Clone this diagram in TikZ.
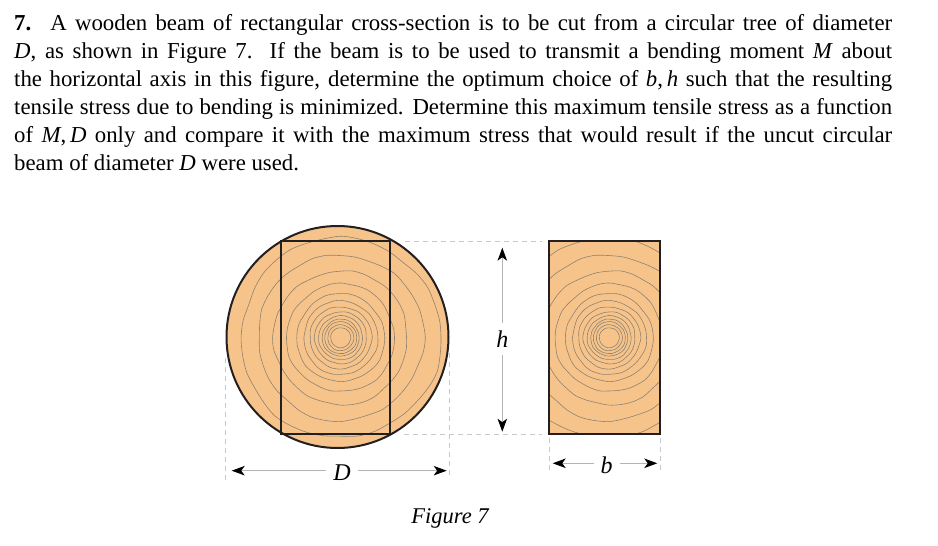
\documentclass[tikz,border=0pt]{standalone}
\usepackage{fontspec}
\setmainfont{Liberation Serif}
\usetikzlibrary{arrows.meta}
\definecolor{woodfill}{HTML}{F6C48B}
\definecolor{ringline}{HTML}{8F8270}
\definecolor{inkline}{HTML}{231F20}
\definecolor{guideline}{HTML}{C8C8C8}
\definecolor{dimgrey}{HTML}{B4B4B4}
\newcommand{\treerings}{
  \foreach \r/\p in {10/20, 13/75, 16/140, 18.5/200, 22/260, 26/310, 31/35, 37/95, 44/170, 54/230, 67/300, 83/50, 100/120} {
    \draw[treering] plot[smooth cycle, samples=36, domain=0:350] (\x:{\r*(1+0.012*sin(3*\x+\p)+0.008*sin(7*\x+2*\p)+0.005*sin(13*\x+3*\p))});
  }
}

\begin{document}
\begin{tikzpicture}[x=1pt, y=1pt,
  treering/.style={draw=ringline, line width=0.6pt},
  outline/.style={draw=inkline, line width=2pt},
  guide/.style={draw=guideline, line width=0.9pt, dash pattern=on 5pt off 4pt},
  dimline/.style={draw=dimgrey, line width=0.9pt, -{Stealth[length=13pt, width=9.5pt, inset=3.5pt, black]}},
  dimlabel/.style={inner sep=7pt, font=\fontsize{24}{24}\selectfont\itshape}]
  \useasboundingbox (0,0) rectangle (938,546);

  \node[anchor=north west, inner sep=0pt, text width=878pt, align=justify, font=\fontsize{22.8}{28}\selectfont] (problem) at (14,531.5) {\textbf{7.}\, A wooden beam of rectangular cross-section is to be cut from a circular tree of diameter\linebreak \textit{D}, as shown in Figure 7.\ \ If the beam is to be used to transmit a bending moment \textit{M} about\linebreak the horizontal axis in this figure, determine the optimum choice of \textit{b},\,\textit{h} such that the resulting\linebreak tensile stress due to bending is minimized. Determine this maximum tensile stress as a function\linebreak of \textit{M},\,\textit{D} only and compare it with the maximum stress that would result if the uncut circular\linebreak beam of diameter \textit{D} were used.};

  \coordinate (trunk) at (337.5,209);
  \coordinate (cutnw) at (280.7,305);
  \coordinate (cutse) at (390,112);
  \coordinate (beamnw) at (549.3,305);
  \coordinate (beamse) at (659.5,112);

  \begin{scope}
    \fill[woodfill] (trunk) circle [radius=111];
    \clip (trunk) circle [radius=111];
    \begin{scope}[shift={(340.7,208.3)}]
      \treerings
    \end{scope}
  \end{scope}
  \draw[outline] (trunk) circle [radius=111];
  \draw[outline] (cutnw) rectangle (cutse);

  \begin{scope}
    \fill[woodfill] (beamnw) rectangle (beamse);
    \clip (beamnw) rectangle (beamse);
    \begin{scope}[shift={(609.3,208.3)}]
      \treerings
    \end{scope}
  \end{scope}
  \draw[outline] (beamnw) rectangle (beamse);

  \coordinate (topfrom) at (405,305);
  \coordinate (topto) at (542,305);
  \coordinate (botfrom) at (404,112);
  \coordinate (botto) at (542,112);
  \draw[guide] (topfrom) -- (topto);
  \draw[guide] (botfrom) -- (botto);
  \coordinate (dleftup) at (225.5,188);
  \coordinate (dleftdown) at (225.5,64);
  \coordinate (drightup) at (449,193);
  \coordinate (drightdown) at (449,69);
  \draw[guide] (dleftup) -- (dleftdown);
  \draw[guide] (drightup) -- (drightdown);
  \coordinate (bleftup) at (549.5,108);
  \coordinate (bleftdown) at (549.5,74);
  \coordinate (brightup) at (660,108);
  \coordinate (brightdown) at (660,74);
  \draw[guide] (bleftup) -- (bleftdown);
  \draw[guide] (brightup) -- (brightdown);

  \node[dimlabel] (dlabel) at (342,73) {D};
  \coordinate (dleft) at (231.7,75.3);
  \coordinate (dright) at (446.7,75.3);
  \draw[dimline] (dlabel.west |- dleft) -- (dleft);
  \draw[dimline] (dlabel.east |- dright) -- (dright);

  \node[dimlabel] (hlabel) at (502.3,207) {h};
  \coordinate (htop) at (502.3,298.3);
  \coordinate (hbot) at (502.3,114.3);
  \draw[dimline] (hlabel) -- (htop);
  \draw[dimline] (hlabel) -- (hbot);

  \node[dimlabel] (blabel) at (606.7,81) {b};
  \coordinate (bleft) at (552.7,82.7);
  \coordinate (bright) at (657.3,82.7);
  \draw[dimline] (blabel.west |- bleft) -- (bleft);
  \draw[dimline] (blabel.east |- bright) -- (bright);

  \node[font=\fontsize{22.5}{24}\selectfont\itshape] (caption) at (450,28) {Figure 7};
\end{tikzpicture}
\end{document}
